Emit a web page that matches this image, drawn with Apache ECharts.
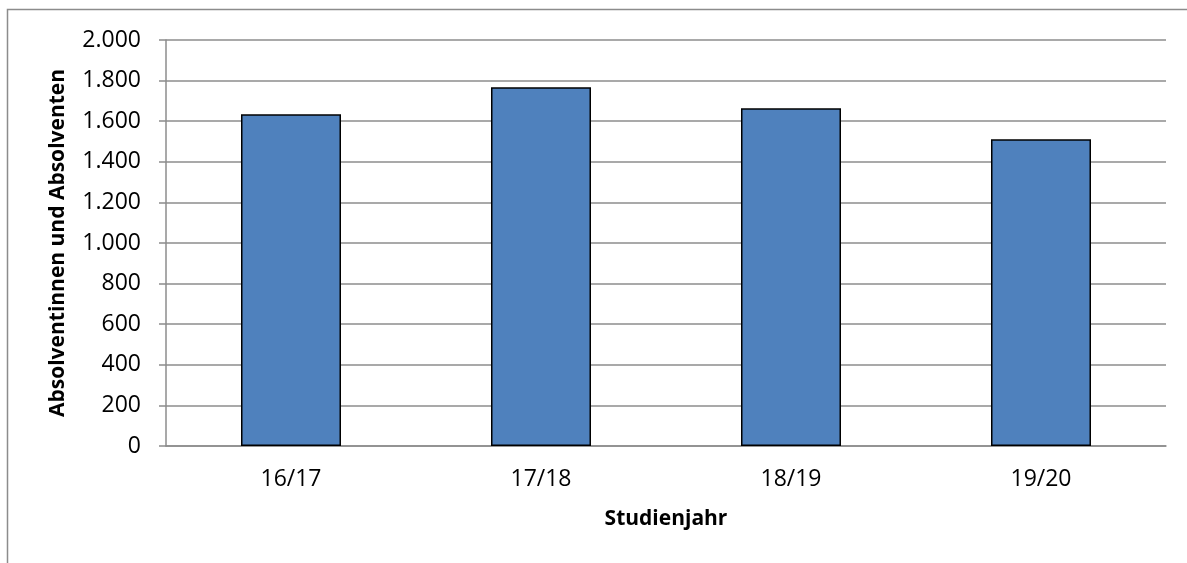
<!DOCTYPE html>
<html>
	<head>
		<meta charset="utf-8">
		<script src="https://cdn.jsdelivr.net/npm/echarts@6/dist/echarts.min.js"></script>
		<style>
			html,body{
				margin:0;
				height:100%;
				background:#fff;
			}
			#container{
				width:1187px;
				height:563px;
			}
		</style>
	</head>
	<body>
		<div id="container"></div>
	<script>
        // Absolventinnen und Absolventen je Studienjahr
        var years = ['16/17', '17/18', '18/19', '19/20'];
        var graduates = [1634, 1767, 1664, 1511];
        var yTicks = [0, 200, 400, 600, 800, 1000, 1200, 1400, 1600, 1800, 2000];

        var font = '"Open Sans", "DejaVu Sans", sans-serif';
        var grey = '#8c8c8c';

        var myChart = echarts.init(document.getElementById('container'));
        var option = {
            backgroundColor: '#fff',
            animation: false,
            textStyle: {
                fontFamily: font
            },
            grid: {
                left: 166,
                right: 21,
                top: 40,
                bottom: 117
            },
            graphic: [
                {
                    type: 'polyline',
                    shape: {
                        points: [[7.5, 563], [7.5, 9.5], [1187, 9.5]]
                    },
                    style: {
                        stroke: grey,
                        lineWidth: 1.5,
                        fill: null
                    }
                }
            ],
            xAxis: {
                type: 'category',
                data: years,
                name: 'Studienjahr',
                nameLocation: 'middle',
                nameGap: 63,
                nameTextStyle: {
                    fontSize: 21,
                    fontWeight: 'bold',
                    color: '#000'
                },
                axisLine: {
                    lineStyle: {
                        color: grey,
                        width: 1.5
                    }
                },
                axisTick: {
                    show: false
                },
                axisLabel: {
                    fontSize: 23,
                    color: '#000',
                    margin: 22
                }
            },
            yAxis: {
                type: 'value',
                min: yTicks[0],
                max: yTicks[yTicks.length - 1],
                interval: 200,
                name: 'Absolventinnen und Absolventen',
                nameLocation: 'middle',
                nameGap: 97,
                nameTextStyle: {
                    fontSize: 21,
                    fontWeight: 'bold',
                    color: '#000'
                },
                axisLine: {
                    show: true,
                    lineStyle: {
                        color: grey,
                        width: 1.5
                    }
                },
                axisTick: {
                    show: true,
                    length: 7,
                    lineStyle: {
                        color: grey,
                        width: 1.5
                    }
                },
                splitLine: {
                    lineStyle: {
                        color: grey,
                        width: 1.5
                    }
                },
                axisLabel: {
                    fontSize: 23,
                    color: '#000',
                    margin: 25,
                    formatter: function (v) {
                        return v.toString().replace(/\B(?=(\d{3})+(?!\d))/g, '.');
                    }
                }
            },
            series: [
                {
                    type: 'bar',
                    data: graduates,
                    barWidth: '40%',
                    itemStyle: {
                        color: '#4f81bd',
                        borderColor: '#000',
                        borderWidth: 1.5
                    }
                }
            ]
        };
        myChart.setOption(option, true);
	</script>
	</body>
</html>
